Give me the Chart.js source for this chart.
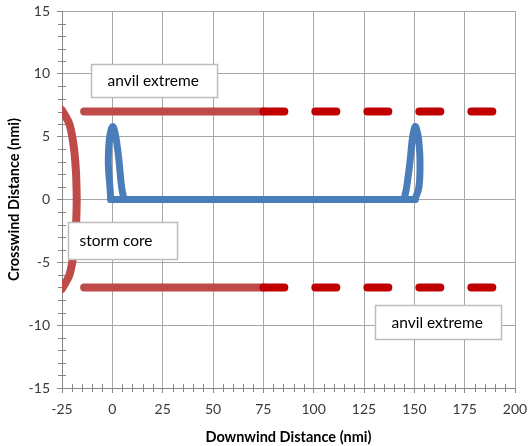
<!DOCTYPE html>
<html>
<head>
<meta charset="utf-8">
<script src="https://cdn.jsdelivr.net/npm/chart.js@4.4.0/dist/chart.umd.min.js"></script>
<style>
  body { margin: 0; background: #fff; }
  canvas { display: block; }
</style>
</head>
<body>
<canvas id="graphique" width="529" height="446"></canvas>
<script>
// axis ranges / ticks
const X_MIN = -25, X_MAX = 200, X_STEP = 25, X_MINOR = 5;
const Y_MIN = -15, Y_MAX = 15, Y_STEP = 5, Y_MINOR = 1;

// storm core (red arc on the left)
const coreX = [-25, -22.8, -21.3, -19.9, -19.0, -18.4, -18.0, -17.8, -17.7, -17.8, -18.0, -18.4, -19.0, -19.9, -21.3, -22.8, -25];
const coreY = [7.1, 6.5, 6, 5, 4, 3, 2, 1, 0, -1, -2, -3, -4, -5, -6, -6.5, -7.1];

// anvil extremes (solid then dashed)
const anvilSolidX = [-14, 75];
const anvilDashX = [75, 190];
const anvilTop = 7, anvilBottom = -7;

// blue path: left loop, base line, right loop
const loopLeftX = [-0.8, -1.2, -1.8, -2.0, -1.6, -0.7, 0.3, 1.2, 2.2, 3.3, 4.6, 5.8];
const loopLeftY = [0, 1, 2.2, 3.1, 4.6, 5.5, 5.8, 5.4, 4.5, 3.1, 1.0, 0];
const baseX = [-0.8, 150.5];
const baseY = [0, 0];
const loopRightX = [144.9, 146.2, 147.9, 149.0, 150.4, 151.6, 152.3, 152.8, 152.3, 150.3];
const loopRightY = [0, 1.0, 3.1, 4.8, 5.8, 5.3, 4.5, 3.1, 1.0, 0];

// text boxes (centre in data units)
const labels = ['anvil extreme', 'storm core', 'anvil extreme'];
const labelX = [20.5, 4.9, 161.7];
const labelY = [9.47, -3.24, -9.78];

const pts = (xs, ys) => xs.map((x, i) => ({ x: x, y: ys[i] }));
const flat = (xs, y) => xs.map(x => ({ x: x, y: y }));

const RED = '#BE4B48', DARK_RED = '#C00000', BLUE = '#4A7EBB';
const AXIS = '#868686', GRID = '#A6A6A6', FONT = 'Lato';

function line(data, color, width, extra) {
   return Object.assign({
      data: data,
      showLine: true,
      borderColor: color,
      backgroundColor: color,
      borderWidth: width,
      borderCapStyle: 'round',
      borderJoinStyle: 'round',
      pointRadius: 0,
      fill: false,
      tension: 0
   }, extra || {});
}

// small ticks across the axes, between the labelled ones
const minorTicks = {
   id: 'minorTicks',
   beforeDatasetsDraw(chart) {
      const c = chart.ctx, xs = chart.scales.x, ys = chart.scales.y;
      c.save();
      c.strokeStyle = AXIS;
      c.lineWidth = 1;
      c.beginPath();
      for (let v = X_MIN; v <= X_MAX; v += X_MINOR) {
         if (v % X_STEP === 0) continue;
         const px = Math.round(xs.getPixelForValue(v)) + 0.5;
         c.moveTo(px, ys.bottom - 4);
         c.lineTo(px, ys.bottom + 4);
      }
      for (let v = Y_MIN; v <= Y_MAX; v += Y_MINOR) {
         if (v % Y_STEP === 0) continue;
         const py = Math.round(ys.getPixelForValue(v)) + 0.5;
         c.moveTo(xs.left - 4, py);
         c.lineTo(xs.left + 4, py);
      }
      c.stroke();
      c.restore();
   }
};

const BOX_W = [126, 109, 126], BOX_H = [33, 37, 34], TEXT_INSET = [16, 11, 16];

const textBoxes = {
   id: 'textBoxes',
   afterDatasetsDraw(chart) {
      const c = chart.ctx, xs = chart.scales.x, ys = chart.scales.y;
      c.save();
      c.font = '15.5px ' + FONT;
      c.textBaseline = 'middle';
      c.textAlign = 'left';
      for (let i = 0; i < labels.length; i++) {
         const cx = xs.getPixelForValue(labelX[i]);
         const cy = ys.getPixelForValue(labelY[i]);
         const l = Math.round(cx - BOX_W[i] / 2) + 0.5, t = Math.round(cy - BOX_H[i] / 2) + 0.5;
         c.fillStyle = '#fff';
         c.fillRect(l, t, BOX_W[i], BOX_H[i]);
         c.strokeStyle = '#BDBDBD';
         c.lineWidth = 1.5;
         c.strokeRect(l, t, BOX_W[i], BOX_H[i]);
         c.fillStyle = '#000';
         c.fillText(labels[i], l + TEXT_INSET[i], cy + 1);
      }
      c.restore();
   }
};

const ctx = document.getElementById('graphique');

const myChart = new Chart(ctx, {
   type: 'scatter',
   data: {
      datasets: [
         line(flat(anvilDashX, anvilTop), DARK_RED, 8, { borderDash: [21, 31] }),
         line(flat(anvilDashX, anvilBottom), DARK_RED, 8, { borderDash: [21, 31] }),
         line(flat(anvilSolidX, anvilTop), RED, 8),
         line(flat(anvilSolidX, anvilBottom), RED, 8),
         line(pts(coreX, coreY), RED, 8, { tension: 0.4 }),
         line(pts(loopLeftX, loopLeftY), BLUE, 7, { tension: 0.4 }),
         line(pts(baseX, baseY), BLUE, 7),
         line(pts(loopRightX, loopRightY), BLUE, 7, { tension: 0.4 })
      ]
   },
   options: {
      responsive: false,
      devicePixelRatio: 1,
      animation: false,
      layout: { padding: { top: 11, right: 14, left: 0, bottom: 0 } },
      plugins: {
         legend: { display: false },
         tooltip: { enabled: false }
      },
      scales: {
         x: {
            type: 'linear',
            min: X_MIN,
            max: X_MAX,
            // fixed box so the plot area lands where the original has it
            afterFit: s => { s.height = 58; s.paddingLeft = 0; s.paddingRight = 0; },
            ticks: {
               stepSize: X_STEP,
               color: '#3a3a3a',
               font: { family: FONT, size: 14 },
               padding: 8,
               maxRotation: 0
            },
            grid: { color: GRID, tickColor: AXIS, tickLength: 5 },
            border: { color: AXIS },
            title: {
               display: true,
               text: 'Downwind Distance (nmi)',
               color: '#000',
               font: { family: FONT, size: 14.5, weight: 'bold' },
               padding: { top: 0, bottom: 0 }
            }
         },
         y: {
            type: 'linear',
            min: Y_MIN,
            max: Y_MAX,
            afterFit: s => { s.width = 62; s.paddingTop = 0; s.paddingBottom = 0; },
            ticks: {
               stepSize: Y_STEP,
               color: '#3a3a3a',
               font: { family: FONT, size: 14 },
               padding: 7
            },
            grid: { color: GRID, tickColor: AXIS, tickLength: 5 },
            border: { color: AXIS },
            title: {
               display: true,
               text: 'Crosswind Distance (nmi)',
               color: '#000',
               font: { family: FONT, size: 14.5, weight: 'bold' },
               padding: { top: 6, bottom: 0 }
            }
         }
      }
   },
   plugins: [minorTicks, textBoxes]
});
</script>
</body>
</html>
